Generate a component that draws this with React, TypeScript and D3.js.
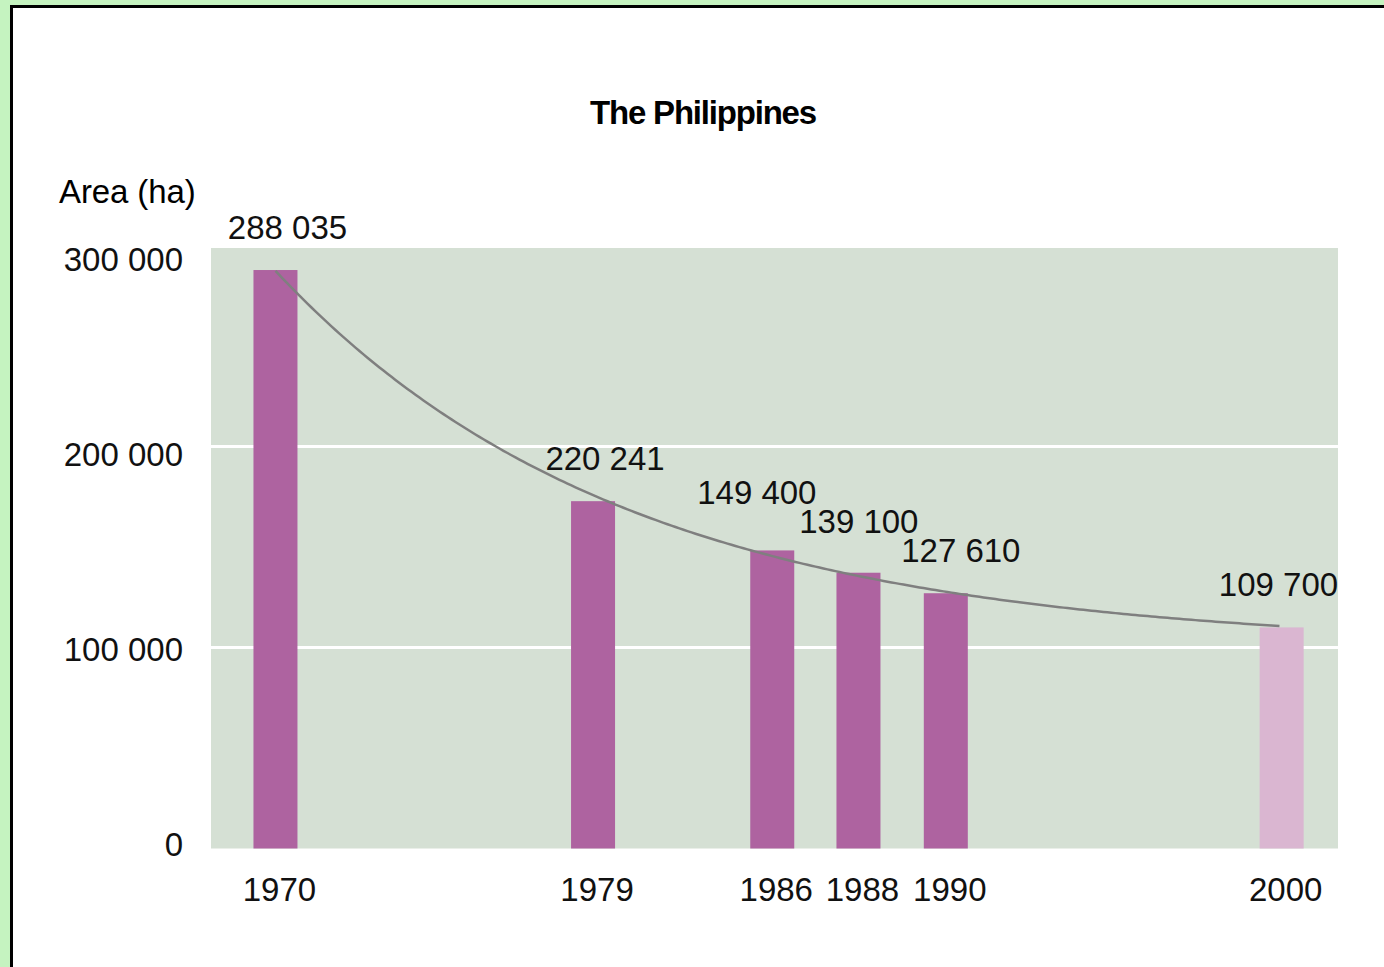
import React from "react";
import * as d3 from "d3";

// data
const years = [1970, 1979, 1986, 1988, 1990, 2000];
const areaHa = [287800, 172800, 148300, 137200, 127000, 110000]; // bar heights as drawn
const areaLabels = ["288 035", "220 241", "149 400", "139 100", "127 610", "109 700"];
const projected = [false, false, false, false, false, true];
const yTicks = [0, 100000, 200000, 300000];
const yTickLabels = ["0", "100 000", "200 000", "300 000"];

const W = 1384;
const H = 967;
const plot = { left: 211, right: 1338, top: 248, bottom: 848.5 };
// the year axis is not evenly spaced in the original, so map years onto fixed stops
const xStops = [0.0572, 0.339, 0.498, 0.5745, 0.652, 0.95];
const barW = 44;
const font = "'Liberation Sans', Arial, sans-serif";
const labelW = 119;
const labelH = 29;
const labelGap = 102;

// exponential trend  v = c + a * exp(-k * u), fitted to the bars by a coarse search
function fitTrend(us: number[], vs: number[]) {
  let best = { a: 0, c: 0, k: 0, err: Infinity };
  for (let k = 0.0005; k <= 0.01; k += 0.00005) {
    for (let c = 0; c <= d3.min(vs)!; c += 1000) {
      const e = us.map((u) => Math.exp(-k * u));
      const a = d3.sum(e, (ei, i) => ei * (vs[i] - c)) / d3.sum(e, (ei) => ei * ei);
      const err = d3.sum(us, (u, i) => (c + a * e[i] - vs[i]) ** 2);
      if (err < best.err) best = { a, c, k, err };
    }
  }
  return best;
}

const App = () => {
  const x = d3
    .scaleLinear()
    .domain(years)
    .range(xStops.map((f) => plot.left + f * (plot.right - plot.left)));

  const y = d3.scaleLinear().domain([0, 300000]).range([plot.bottom, 245.5]);
  // tick labels sit a little tighter than the grid in the original
  const yLabel = d3
    .scaleLinear()
    .domain([0, 300000])
    .range([plot.bottom + 7, plot.bottom + 7 - 0.97 * (plot.bottom - 245.5)]);

  const x0 = x(years[0]);
  const us = years.map((yr) => x(yr) - x0);
  const fit = fitTrend(us, areaHa);
  const trendPts: [number, number][] = d3
    .range(0, us[us.length - 1] + 1, 4)
    .map((u) => [x0 + u, y(fit.c + fit.a * Math.exp(-fit.k * u))]);
  const trend = d3.line()(trendPts);

  // value labels: above each bar, stacked and spread when they collide
  const labelPos = years.map((yr, i) => ({
    x: x(yr),
    y: y(areaHa[i]) - 31,
    group: i,
  }));
  for (let i = labelPos.length - 2; i >= 0; i--) {
    const a = labelPos[i];
    const b = labelPos[i + 1];
    if (Math.abs(a.x - b.x) < labelW && a.y > b.y - labelH) {
      a.y = b.y - labelH;
      a.group = b.group;
    }
  }
  d3.groups(labelPos, (d) => d.group).forEach(([, g]) => {
    if (g.length > 1) {
      const mid = d3.mean(g, (d) => d.x)!;
      g.forEach((d, j) => (d.x = mid + (j - (g.length - 1) / 2) * labelGap));
    } else {
      g[0].x += 12;
    }
  });
  labelPos.forEach((d) => (d.x = Math.min(d.x, plot.right - labelW / 2)));

  return (
    <div style={{ position: "fixed", left: 0, top: 0 }}>
      <svg width={W} height={H} style={{ display: "block" }}>
        <rect width={W} height={H} fill="#c5f3c0" />
        <rect x={11.5} y={6.5} width={W + 100} height={H + 100} fill="#fff" stroke="#000" strokeWidth={3} />

        <text x={703} y={124} textAnchor="middle" fontFamily={font} fontWeight="bold" fontSize={33} letterSpacing={-1.2}>
          The Philippines
        </text>
        <text x={59} y={203} fontFamily={font} fontSize={33} letterSpacing={-0.1}>
          Area (ha)
        </text>

        <rect
          x={plot.left}
          y={plot.top}
          width={plot.right - plot.left}
          height={plot.bottom - plot.top}
          fill="#d5e0d4"
        />
        {yTicks
          .filter((t) => t > 0 && t < 300000)
          .map((t) => (
            <line key={t} x1={plot.left} x2={plot.right} y1={y(t)} y2={y(t)} stroke="#fff" strokeWidth={3} />
          ))}

        {yTicks.map((t, i) => (
          <text key={t} x={183} y={yLabel(t)} textAnchor="end" fontFamily={font} fontSize={33} fill="#111">
            {yTickLabels[i]}
          </text>
        ))}

        {years.map((yr, i) => (
          <rect
            key={yr}
            x={x(yr) - barW / 2}
            y={y(areaHa[i])}
            width={barW}
            height={plot.bottom - y(areaHa[i])}
            fill={projected[i] ? "#dab6d1" : "#ae63a0"}
          />
        ))}

        <path d={trend ?? ""} fill="none" stroke="#7f7f7f" strokeWidth={2.5} />

        {years.map((yr, i) => (
          <text
            key={"v" + yr}
            x={labelPos[i].x}
            y={labelPos[i].y}
            textAnchor="middle"
            fontFamily={font}
            fontSize={33}
            fill="#111"
          >
            {areaLabels[i]}
          </text>
        ))}

        {years.map((yr) => (
          <text key={"x" + yr} x={x(yr) + 4} y={901} textAnchor="middle" fontFamily={font} fontSize={33} fill="#111">
            {yr}
          </text>
        ))}
      </svg>
    </div>
  );
};

export default App;
